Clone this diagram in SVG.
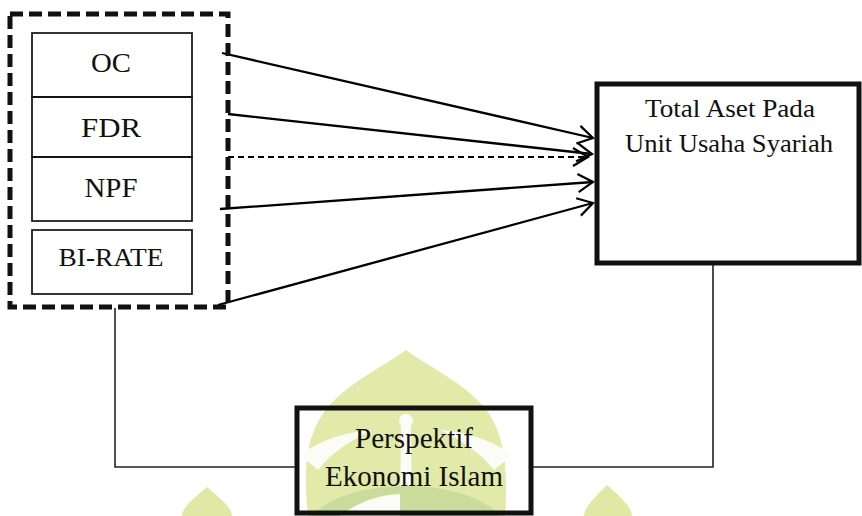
<svg xmlns="http://www.w3.org/2000/svg" width="862" height="516" viewBox="0 0 862 516">
<defs>
<marker id="ah" markerUnits="userSpaceOnUse" markerWidth="24" markerHeight="24" viewBox="-18 -12 22 24" refX="0" refY="0" orient="auto">
<path d="M-15,-9 L0,0 L-15,9" fill="none" stroke="#000" stroke-width="2.2"/>
</marker>
<style>
text{font-family:"Liberation Serif","Times New Roman",serif;fill:#111;text-anchor:middle}
.inner{fill:none;stroke:#111;stroke-width:1.7}
.arr{fill:none;stroke:#000;stroke-width:2.3;marker-end:url(#ah)}
.link{fill:none;stroke:#222;stroke-width:1.6}
.wm1{fill:#dfe9a4}
.wm2{fill:#c9dc9c}
.wmw{fill:#fbfcf6}
</style>
</defs>
<rect width="862" height="516" fill="#fff"/>
<g id="watermark">
<path class="wm1" d="M406,350 C430,368 470,385 490,415 C505,440 508,470 505,516 L308,516 C303,470 306,440 322,415 C342,385 382,368 406,350 Z" opacity="0.95"/>
<path class="wmw" d="M300,455 C320,440 345,432 372,430 C352,440 332,452 318,470 Z"/>
<path class="wmw" d="M512,455 C492,440 467,432 440,430 C460,440 480,452 494,470 Z"/>
<circle class="wmw" cx="406" cy="421" r="7"/>
<path class="wmw" d="M401,425 L411,425 L412,516 L400,516 Z"/>
<path class="wm2" d="M312,516 C330,495 370,486 406,486 C442,486 482,495 500,516 Z"/>
<path class="wmw" d="M340,516 C360,500 385,494 400,494 L400,516 Z"/>
<path class="wm1" d="M207,487 C222,500 232,508 232,516 L182,516 C182,508 192,500 207,487 Z"/>
<path class="wm1" d="M607,485 C622,498 632,508 632,516 L584,516 C584,508 594,498 607,485 Z"/>
</g>
<g id="connectors">
<line class="arr" x1="222" y1="53" x2="593" y2="138"/>
<line class="arr" x1="228" y1="114" x2="592" y2="154"/>
<line x1="228" y1="157" x2="588" y2="157" fill="none" stroke="#000" stroke-width="2" stroke-dasharray="6 4" marker-end="url(#ah)"/>
<line class="arr" x1="220" y1="209" x2="593" y2="182"/>
<line class="arr" x1="218" y1="305" x2="593" y2="203"/>
<polyline class="link" points="115,308 115,467 297,467"/>
<polyline class="link" points="531,467 713,467 713,263"/>
</g>
<g id="group-independent">
<rect x="10" y="14" width="218" height="293" fill="none" stroke="#111" stroke-width="5" stroke-dasharray="13 6"/>
</g>
<g id="node-oc">
<rect class="inner" x="32" y="33" width="160" height="64"/>
<text x="111" y="72" font-size="27" textLength="40" lengthAdjust="spacingAndGlyphs">OC</text>
</g>
<g id="node-fdr">
<rect class="inner" x="32" y="97" width="160" height="60"/>
<text x="111" y="137" font-size="28" textLength="60" lengthAdjust="spacingAndGlyphs">FDR</text>
</g>
<g id="node-npf">
<rect class="inner" x="32" y="157" width="160" height="64"/>
<text x="111" y="197" font-size="28" textLength="53" lengthAdjust="spacingAndGlyphs">NPF</text>
</g>
<g id="node-birate">
<rect class="inner" x="32" y="230" width="160" height="64"/>
<text x="111" y="266" font-size="25" textLength="105" lengthAdjust="spacingAndGlyphs">BI-RATE</text>
</g>
<g id="node-total-aset">
<rect x="597" y="84" width="262" height="179" fill="none" stroke="#111" stroke-width="5"/>
<text x="730" y="117" font-size="25" textLength="170" lengthAdjust="spacingAndGlyphs">Total Aset Pada</text>
<text x="729" y="152" font-size="25" textLength="208" lengthAdjust="spacingAndGlyphs">Unit Usaha Syariah</text>
</g>
<g id="node-perspektif">
<rect x="297" y="408" width="234" height="105" fill="none" stroke="#111" stroke-width="5"/>
<text x="414" y="448" font-size="29" textLength="118" lengthAdjust="spacingAndGlyphs">Perspektif</text>
<text x="414" y="486" font-size="29" textLength="178" lengthAdjust="spacingAndGlyphs">Ekonomi Islam</text>
</g>
</svg>
